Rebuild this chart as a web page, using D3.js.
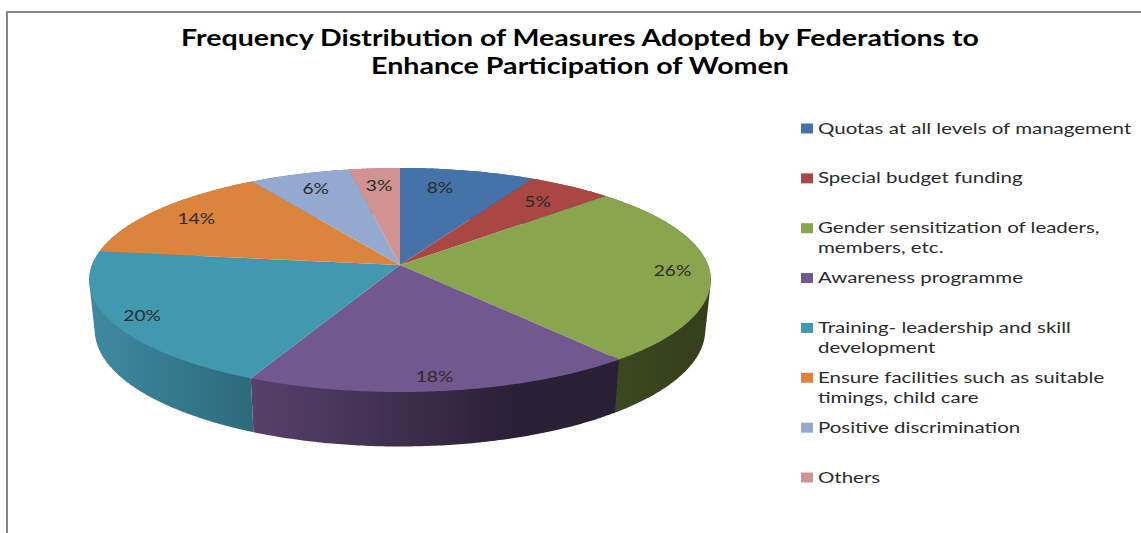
<!DOCTYPE html>
<html lang="en">
    <head>
        <meta charset="utf-8">
        <title>Frequency Distribution of Measures</title>
        <script type="text/javascript" src="https://cdn.jsdelivr.net/npm/d3@7"></script>
        <style type="text/css">
        html, body { margin: 0; padding: 0; background: white; }
        svg { display: block; }
        text { font-family: Lato, "Open Sans", sans-serif; fill: #2b2b2b; }
        </style>
    </head>
    <body>
        <script>
                var w = 1141;
                var h = 533;

                var titleLines = ["Frequency Distribution of Measures Adopted by Federations to", "Enhance Participation of Women"];
                var categories = [
                  ["Quotas at all levels of management"],
                  ["Special budget funding"],
                  ["Gender sensitization of leaders,", "members, etc."],
                  ["Awareness programme"],
                  ["Training- leadership and skill", "development"],
                  ["Ensure facilities such as suitable", "timings, child care"],
                  ["Positive discrimination"],
                  ["Others"]
                ];
                var values = [8, 5, 26, 18, 20, 14, 6, 3];

                // slice styles
                var colors = ["#4572A7", "#AA4643", "#89A54E", "#71588F", "#4198AF", "#DB843D", "#93A9CF", "#D19392"];
                var wallLeft = ["#33557c", "#7a3230", "#3d4a20", "#57416c", "#3f8aa1", "#a06030", "#6a7c98", "#9a6c6b"];
                var wallRight = ["#33557c", "#7a3230", "#343e1b", "#2a2036", "#2c6a7a", "#a06030", "#6a7c98", "#9a6c6b"];
                var wallEnd = [1, 1, 1, 0.72, 1, 1, 1, 1];

                // label placement inside each slice: fraction of radius, shift in degrees
                var labelRadius = [0.785, 0.79, 0.88, 0.9, 0.9, 0.83, 0.82, 0.8];
                var labelShift = [-3.9, 0, 0, 0.9, 0, 0, 0, 0];

                // pie is a circle seen in perspective: apex sits above the ellipse centre
                var cx = 400, cy = 265, a = 308, b = 110, k = 0.134;
                var depth = 50, depthGrow = 0.04, bottomShrink = 0.982;

                function project(angle, r) {
                  var u = Math.sin(angle) * r;
                  var v = -Math.cos(angle) * r;
                  var d = 1 - k * v;
                  return [cx + a * u / d, cy + b * v / d];
                }

                function lower(p) {
                  return [cx + (p[0] - cx) * bottomShrink, p[1] + depth + depthGrow * (p[1] - 280)];
                }

                function arcPoints(d) {
                  var pts = d3.range(d.startAngle, d.endAngle, 0.01).map(function (t) { return project(t, 1); });
                  pts.push(project(d.endAngle, 1));
                  return pts;
                }

                var svg = d3.select("body")
                  .append("svg")
                  .attr("width", w)
                  .attr("height", h);

                var defs = svg.append("defs");

                // chart border runs off the right and bottom of the picture
                svg.append("rect")
                  .attr("x", 7)
                  .attr("y", 12)
                  .attr("width", w + 20)
                  .attr("height", h + 20)
                  .attr("fill", "white")
                  .attr("stroke", "#878787")
                  .attr("stroke-width", 2);

                var pie = d3.pie().sort(null).value(function (d) { return d; });
                var slices = pie(values);
                var line = d3.line().curve(d3.curveLinearClosed);

                // side walls, hull closes the silhouette at the far left and right
                slices.forEach(function (d, i) {
                  var top = arcPoints(d);
                  var hull = d3.polygonHull(top.concat(top.map(lower)));
                  var xs = d3.extent(hull, function (p) { return p[0]; });
                  var grad = defs.append("linearGradient")
                    .attr("id", "wall" + i)
                    .attr("gradientUnits", "userSpaceOnUse")
                    .attr("x1", xs[0]).attr("x2", xs[1])
                    .attr("y1", 0).attr("y2", 0);
                  grad.append("stop").attr("offset", 0).attr("stop-color", wallLeft[i]);
                  grad.append("stop").attr("offset", wallEnd[i]).attr("stop-color", wallRight[i]);
                  svg.append("path")
                    .attr("d", line(hull))
                    .attr("fill", "url(#wall" + i + ")");
                });

                // top surface
                svg.selectAll(".slice")
                  .data(slices)
                  .enter()
                  .append("path")
                  .attr("class", "slice")
                  .attr("fill", function (d, i) { return colors[i]; })
                  .attr("d", function (d) { return line([[cx, cy]].concat(arcPoints(d))); });

                // percent labels
                svg.selectAll(".label")
                  .data(slices)
                  .enter()
                  .append("text")
                  .attr("class", "label")
                  .attr("text-anchor", "middle")
                  .attr("font-size", 15)
                  .attr("transform", function (d, i) {
                    var mid = (d.startAngle + d.endAngle) / 2 + labelShift[i] * Math.PI / 180;
                    var p = project(mid, labelRadius[i]);
                    return "translate(" + p[0] + "," + (p[1] + 5) + ") scale(1.28,1)";
                  })
                  .text(function (d) { return d.value + "%"; });

                // title
                svg.selectAll(".title")
                  .data(titleLines)
                  .enter()
                  .append("text")
                  .attr("class", "title")
                  .attr("x", 580)
                  .attr("y", function (d, i) { return 46 + i * 28; })
                  .attr("text-anchor", "middle")
                  .attr("font-size", 23)
                  .attr("font-weight", "bold")
                  .attr("textLength", function (d, i) { return i == 0 ? 798 : 418; })
                  .attr("lengthAdjust", "spacingAndGlyphs")
                  .style("fill", "#000")
                  .text(function (d) { return d; });

                // legend
                var legendY = d3.scalePoint()
                  .domain(d3.range(categories.length))
                  .range([128.5, 477.5]);

                var legend = svg.selectAll(".legend")
                  .data(categories)
                  .enter()
                  .append("g")
                  .attr("class", "legend")
                  .attr("transform", function (d, i) { return "translate(801," + legendY(i) + ")"; });

                legend.append("rect")
                  .attr("x", 0)
                  .attr("y", -5)
                  .attr("width", 12)
                  .attr("height", 10)
                  .attr("fill", function (d, i) { return colors[i]; });

                legend.each(function (d) {
                  var g = d3.select(this);
                  d.forEach(function (t, j) {
                    g.append("text")
                      .attr("transform", "translate(17," + (5 + j * 20) + ") scale(1.28,1)")
                      .attr("font-size", 16)
                      .text(t);
                  });
                });
        </script>
    </body>
</html>
